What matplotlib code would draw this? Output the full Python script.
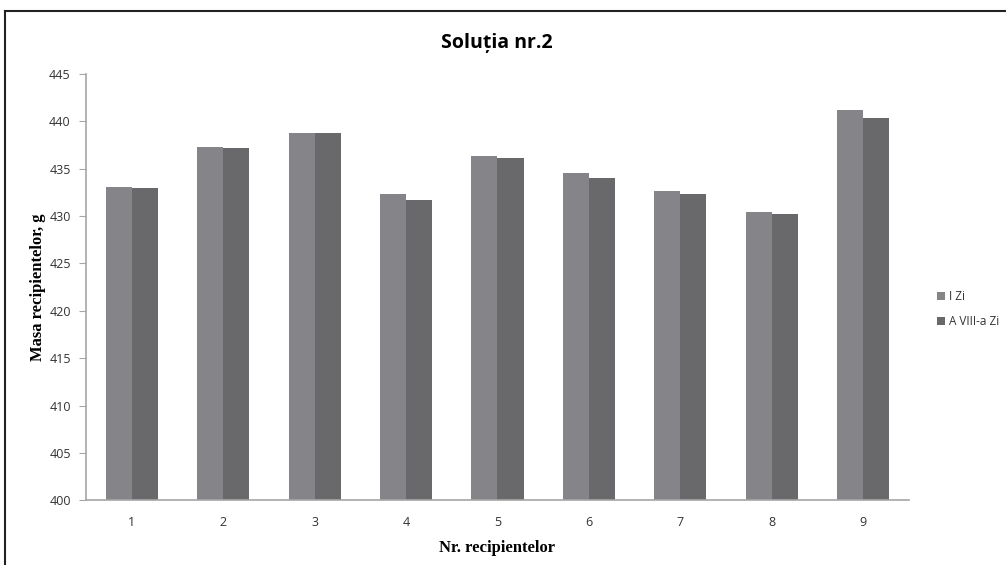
import numpy as np
import matplotlib.pyplot as plt
from matplotlib.lines import Line2D

recipients = ["1", "2", "3", "4", "5", "6", "7", "8", "9"]
day1 = [433.1, 437.3, 438.8, 432.3, 436.3, 434.5, 432.6, 430.4, 441.2]
day8 = [433.0, 437.2, 438.8, 431.7, 436.1, 434.0, 432.3, 430.2, 440.4]
series_names = ["I Zi", "A VIII-a Zi"]

c1 = "#858589"
c2 = "#69696b"
axis_gray = "#a6a6a6"

fig = plt.figure(figsize=(10.06, 5.65), dpi=100)
ax = fig.add_axes([0.0855, 0.1145, 0.818, 0.7545])

x = np.arange(len(recipients))
w = 0.285
ax.bar(x - w / 2, day1, width=w, color=c1, label=series_names[0])
ax.bar(x + w / 2, day8, width=w, color=c2, label=series_names[1])

ax.set_xlim(-0.5, len(recipients) - 0.5)
ax.set_ylim(400, 445)
ax.set_yticks(np.arange(400, 446, 5))
ax.set_xticks(x)
ax.set_xticklabels(recipients)

for side in ["top", "right"]:
    ax.spines[side].set_visible(False)
for side in ["left", "bottom"]:
    ax.spines[side].set_color(axis_gray)
    ax.spines[side].set_linewidth(1.2)
ax.tick_params(axis="y", length=5, color=axis_gray, labelsize=9, labelcolor="#333333", pad=6)
ax.tick_params(axis="x", length=0, labelsize=9, labelcolor="#333333", pad=11)
for lbl in ax.get_xticklabels() + ax.get_yticklabels():
    lbl.set_family("Open Sans")

ax.set_xlabel("Nr. recipientelor", family="Liberation Serif", fontweight="bold", fontsize=12, labelpad=8)
ax.set_ylabel("Masa recipientelor, g", family="Liberation Serif", fontweight="bold", fontsize=12, labelpad=2)

fig.text(0.494, 0.924, "Soluția nr.2", ha="center", va="center", fontsize=14,
         fontweight="bold", family="Open Sans")

leg = fig.legend(loc="center left", bbox_to_anchor=(0.921, 0.453), frameon=False,
                 handlelength=0.7, handleheight=0.7, handletextpad=0.3,
                 labelspacing=1.0, prop={"family": "Open Sans", "size": 8.5})
for t in leg.get_texts():
    t.set_color("#333333")

# outer chart frame (top and left edges visible in the crop)
fig.add_artist(Line2D([0.005, 1.0], [0.981, 0.981], color="#222222", lw=1.5))
fig.add_artist(Line2D([0.005, 0.005], [0.0, 0.981], color="#222222", lw=1.5))

fig.savefig("out.png", dpi=100, facecolor="white")
